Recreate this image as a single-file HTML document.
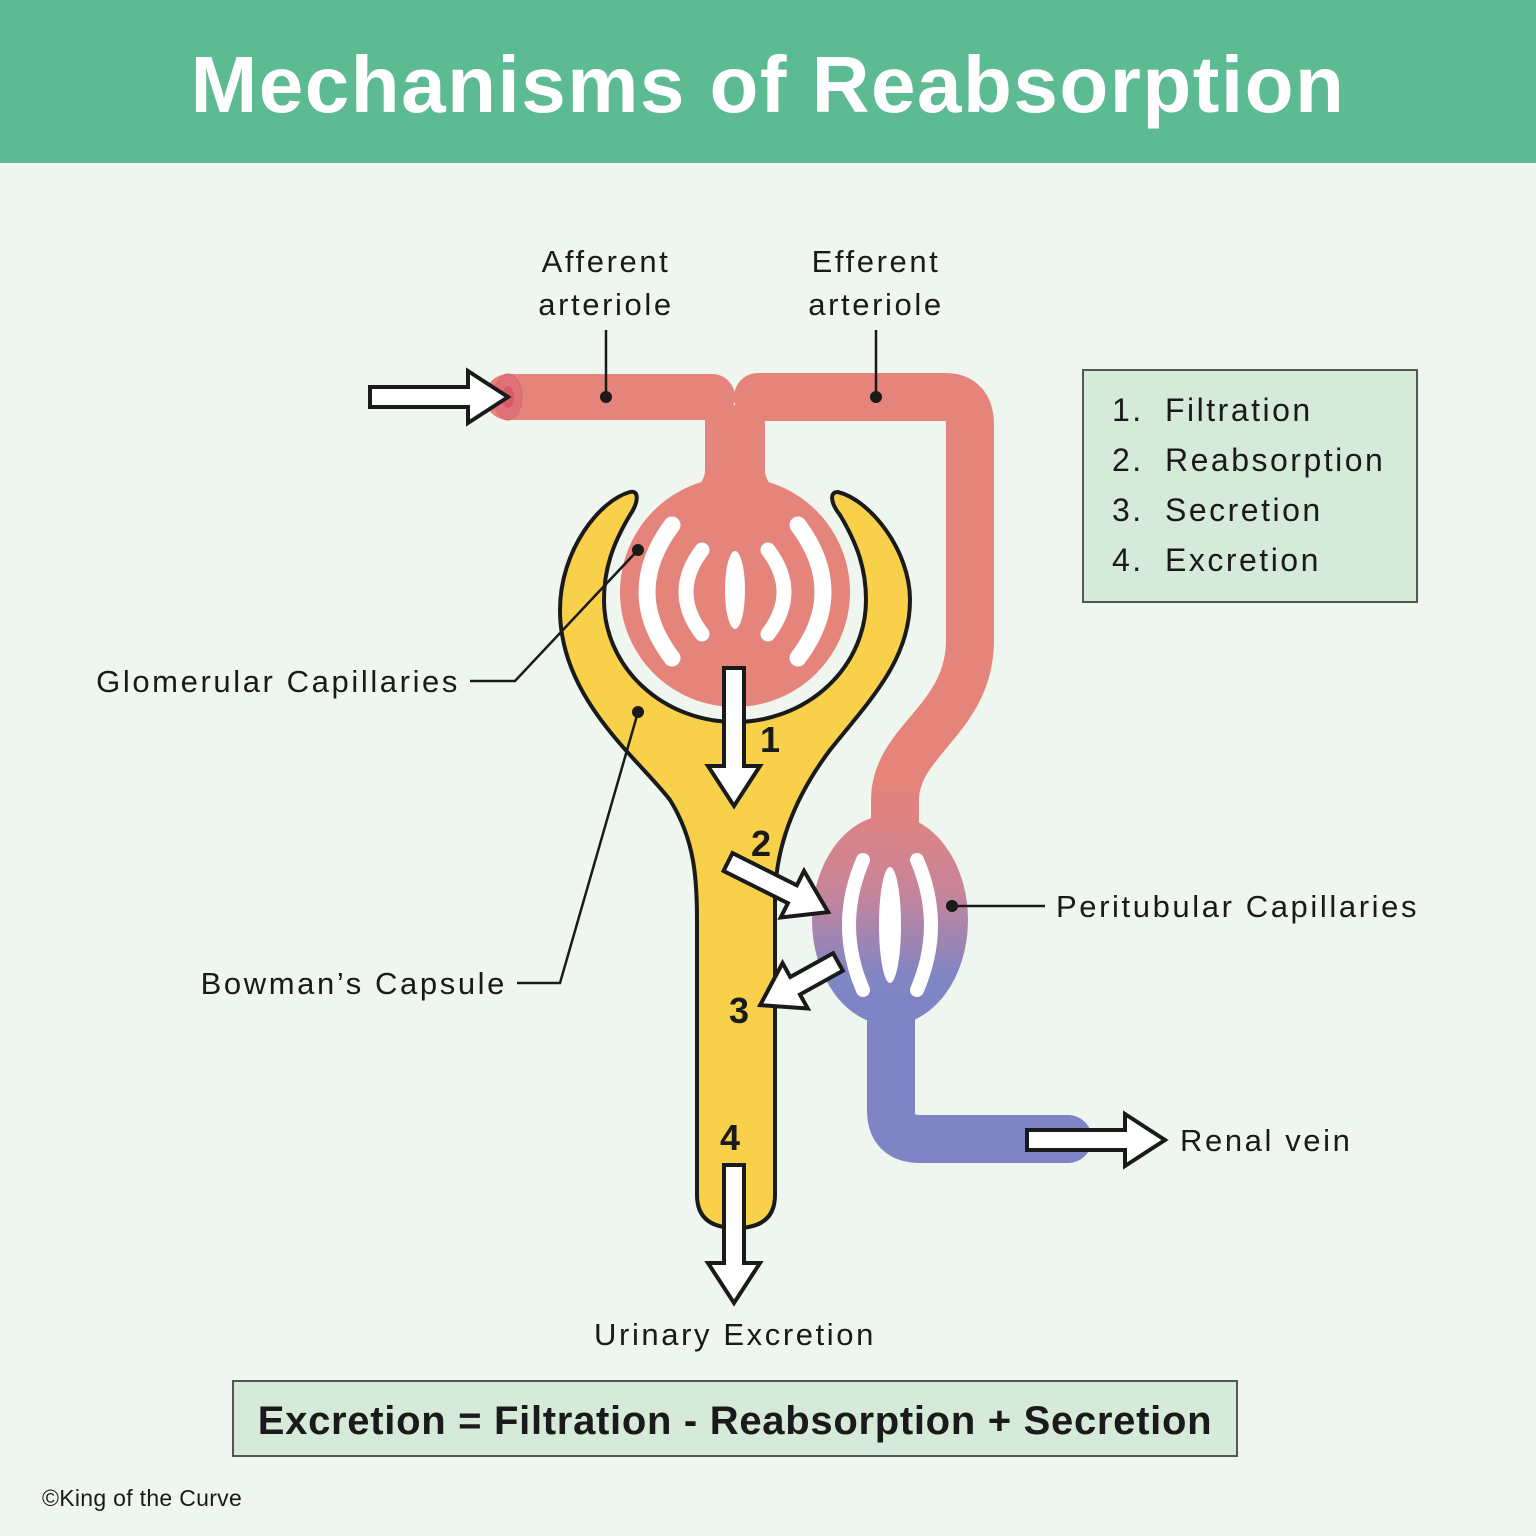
<!DOCTYPE html>
<html><head><meta charset="utf-8"><style>
html,body{margin:0;padding:0;background:#eef6ef;}
svg{display:block;}
text{font-family:"Liberation Sans",sans-serif;}
</style></head><body>
<svg width="1536" height="1536" viewBox="0 0 1536 1536" xmlns="http://www.w3.org/2000/svg">
<defs>
<linearGradient id="pg" x1="0" y1="815" x2="0" y2="1030" gradientUnits="userSpaceOnUse">
<stop offset="0" stop-color="#e08380"/><stop offset="0.35" stop-color="#c8859a"/><stop offset="0.75" stop-color="#8085c4"/><stop offset="1" stop-color="#7e84c4"/>
</linearGradient>
</defs>
<rect width="1536" height="1536" fill="#eef6ef"/>
<rect width="1536" height="163" fill="#5dbb93"/>
<text x="768" y="112" text-anchor="middle" font-size="80" font-weight="bold" fill="#fff" letter-spacing="1.5">Mechanisms of Reabsorption</text>

<!-- vessels -->
<path d="M508,397 L712,397" stroke="#e5847a" stroke-width="46" stroke-linecap="round" fill="none"/>
<path d="M758,397 L945,397 Q970,397 970,425 L970,640 C970,720 895,740 895,800 L895,840" stroke="#e5847a" stroke-width="48" stroke-linecap="round" stroke-linejoin="round" fill="none"/>
<path d="M872,790 L918,790 L918,840 L872,840Z" fill="url(#pg)"/>
<path d="M705,405 L765,405 L765,470 Q765,490 800,500 L670,500 Q705,490 705,470Z" fill="#e5847a"/>
<ellipse cx="508" cy="397" rx="14" ry="23" fill="#e0707a" stroke="#d76a6a"/>
<ellipse cx="508" cy="397" rx="6" ry="11" fill="#d85a66"/>
<!-- vein -->
<path d="M891,1000 L891,1110 Q891,1139 920,1139 L1068,1139" stroke="#7e84c4" stroke-width="48" stroke-linecap="round" stroke-linejoin="round" fill="none"/>
<ellipse cx="890" cy="920" rx="78" ry="105" fill="url(#pg)"/>

<!-- Bowman's capsule -->
<path d="M630,492 C600,500 560,550 560,610 C560,700 640,760 670,800 C695,840 697,880 697,920 L697,1195 Q697,1228 736,1228 Q775,1228 775,1195 L775,900 C775,840 800,790 830,750 C870,700 910,660 910,600 C910,550 870,500 838,492 C828,492 832,505 840,515 C858,545 866,570 866,600 A131 122 0 0 1 604,600 C604,570 612,545 630,515 C638,503 640,490 630,492 Z" fill="#f8d04a" stroke="#1a1a1a" stroke-width="4" stroke-linejoin="round"/>
<circle cx="735" cy="592" r="115" fill="#e5847a"/>

<!-- slits -->
<g fill="none" stroke="#fff" stroke-linecap="round">
<path d="M672,525 Q622,592 672,658" stroke-width="17"/>
<path d="M702,550 Q670,592 702,634" stroke-width="15"/>
<path d="M768,550 Q800,592 768,634" stroke-width="15"/>
<path d="M798,525 Q848,592 798,658" stroke-width="17"/>
<path d="M863,860 Q835,925 863,990" stroke-width="14"/>
<path d="M917,860 Q945,925 917,990" stroke-width="14"/>
</g>
<g fill="#fff">
<ellipse cx="735" cy="590" rx="10" ry="39"/>
<ellipse cx="890" cy="925" rx="11" ry="58"/>
</g>

<!-- arrows -->
<g fill="#fff" stroke="#1a1a1a" stroke-width="4" stroke-linejoin="miter">
<polygon points="0,-10 98,-10 98,-26 138,0 98,26 98,10 0,10" transform="translate(370,397)"/>
<polygon points="0,-10 98,-10 98,-26 138,0 98,26 98,10 0,10" transform="translate(734,668) rotate(90)"/>
<polygon points="0,-10 72,-10 72,-26 112,0 72,26 72,10 0,10" transform="translate(728,862) rotate(26.6)"/>
<polygon points="0,-10 49,-10 49,-26 89,0 49,26 49,10 0,10" transform="translate(838,962) rotate(151)"/>
<polygon points="0,-10 98,-10 98,-26 138,0 98,26 98,10 0,10" transform="translate(734,1165) rotate(90)"/>
<polygon points="0,-10 98,-10 98,-26 138,0 98,26 98,10 0,10" transform="translate(1027,1140)"/>
</g>

<g font-size="36" font-weight="bold" fill="#1a1a1a">
<text x="760" y="752">1</text>
<text x="751" y="856">2</text>
<text x="729" y="1023">3</text>
<text x="720" y="1150">4</text>
</g>

<!-- leaders -->
<g stroke="#1a1a1a" stroke-width="2.5" fill="none">
<path d="M606,330 L606,397"/>
<path d="M876,330 L876,397"/>
<path d="M470,681 L515,681 L638,550"/>
<path d="M517,983 L560,983 L638,712"/>
<path d="M952,906 L1045,906"/>
</g>
<g fill="#1a1a1a">
<circle cx="606" cy="397" r="6"/><circle cx="876" cy="397" r="6"/>
<circle cx="638" cy="550" r="6"/><circle cx="638" cy="712" r="6"/><circle cx="952" cy="906" r="6"/>
</g>

<g font-size="31" fill="#1a1a1a" letter-spacing="2.6">
<text x="606" y="272" text-anchor="middle">Afferent</text>
<text x="606" y="315" text-anchor="middle">arteriole</text>
<text x="876" y="272" text-anchor="middle">Efferent</text>
<text x="876" y="315" text-anchor="middle">arteriole</text>
<text x="460" y="692" text-anchor="end">Glomerular Capillaries</text>
<text x="507" y="994" text-anchor="end">Bowman’s Capsule</text>
<text x="1056" y="917">Peritubular Capillaries</text>
<text x="1180" y="1151">Renal vein</text>
<text x="735" y="1345" text-anchor="middle">Urinary Excretion</text>
</g>

<rect x="1083" y="370" width="334" height="232" fill="#d5ead8" stroke="#555" stroke-width="2"/>
<g font-size="32" fill="#1a1a1a" letter-spacing="2.5">
<text x="1112" y="421">1.</text><text x="1165" y="421">Filtration</text>
<text x="1112" y="471">2.</text><text x="1165" y="471">Reabsorption</text>
<text x="1112" y="521">3.</text><text x="1165" y="521">Secretion</text>
<text x="1112" y="571">4.</text><text x="1165" y="571">Excretion</text>
</g>

<rect x="233" y="1381" width="1004" height="75" fill="#d5ead8" stroke="#555" stroke-width="2"/>
<text x="735" y="1434" text-anchor="middle" font-size="40" font-weight="bold" fill="#1a1a1a" letter-spacing="0.7">Excretion = Filtration - Reabsorption + Secretion</text>

<text x="42" y="1506" font-size="23" fill="#1a1a1a" letter-spacing="0.3">©King of the Curve</text>
</svg>
</body></html>
